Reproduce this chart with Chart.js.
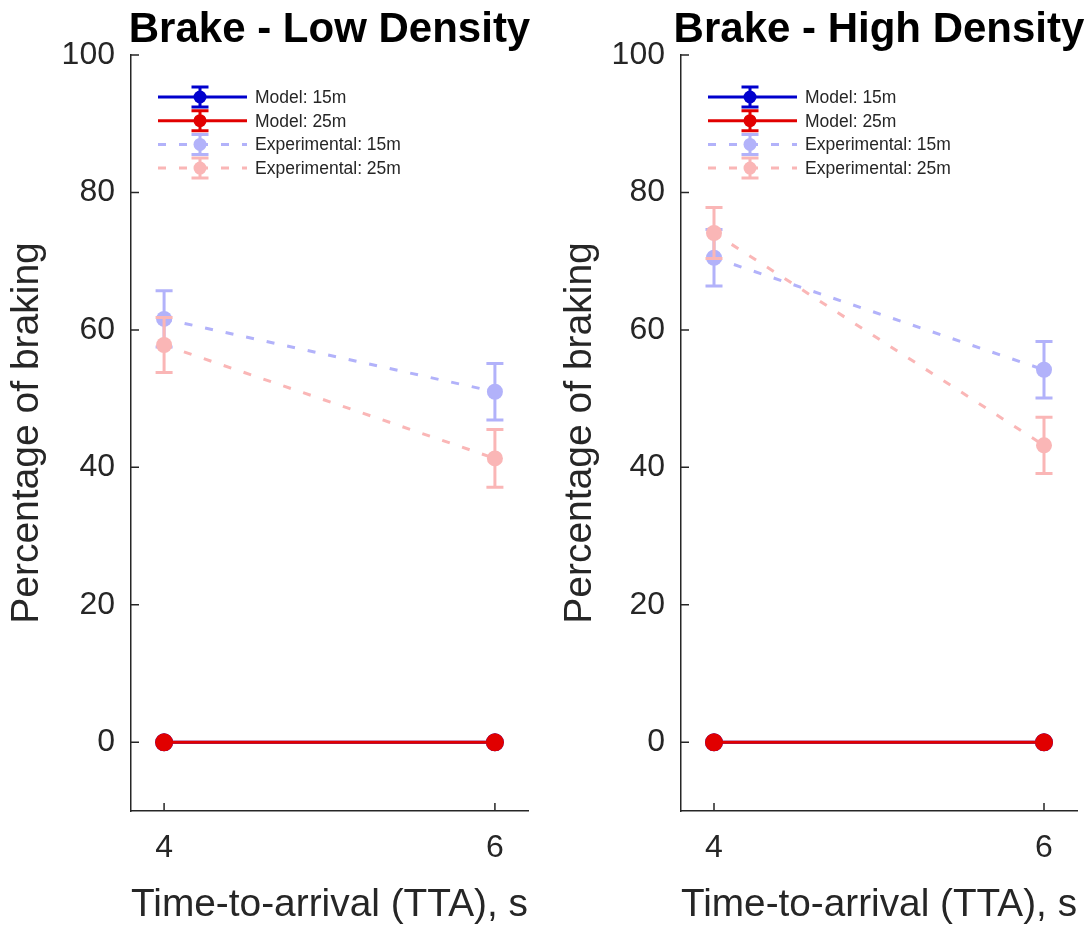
<!DOCTYPE html>
<html>
<head>
<meta charset="utf-8">
<script src="https://cdn.jsdelivr.net/npm/chart.js@4.4.1/dist/chart.umd.min.js"></script>
<style>
  body { margin: 0; background: #fff; }
  #wrap { position: relative; width: 1088px; height: 926px; }
  canvas { position: absolute; top: 0; }
</style>
</head>
<body>
<div id="wrap">
  <canvas id="lowChart" width="544" height="926" style="left:0"></canvas>
  <canvas id="highChart" width="544" height="926" style="left:544px"></canvas>
</div>
<script>
// data
const tta = [4, 6];
const xTicks = [4, 6];
const yTicks = [0, 20, 40, 60, 80, 100];
const seriesNames = ['Model: 15m', 'Model: 25m', 'Experimental: 15m', 'Experimental: 25m'];

const lowModel15 = [0, 0];
const lowModel25 = [0, 0];
const lowExp15 = [61.6, 51.0];
const lowExp25 = [57.8, 41.3];
const lowExp15Err = [4.1, 4.1];
const lowExp25Err = [4.0, 4.2];

const highModel15 = [0, 0];
const highModel25 = [0, 0];
const highExp15 = [70.5, 54.2];
const highExp25 = [74.1, 43.2];
const highExp15Err = [4.1, 4.1];
const highExp25Err = [3.7, 4.1];

const zeroErr = [0, 0];

const colors = ['rgb(0,0,205)', 'rgb(225,0,0)', 'rgb(178,178,250)', 'rgb(250,182,182)'];
const axisColor = '#262626';

Chart.defaults.font.family = '"Liberation Sans", Arial, Helvetica, sans-serif';

function pts(vals) {
    return tta.map((x, i) => ({ x: x, y: vals[i] }));
}

function series(i, vals, errs) {
    const exp = i >= 2;
    return {
        label: seriesNames[i],
        data: pts(vals),
        errors: errs,
        order: 4 - i, // later series on top, like matlab
        borderColor: colors[i],
        backgroundColor: colors[i],
        borderWidth: 3,
        borderDash: exp ? [8, 13] : [],
        pointRadius: exp ? 8 : 9,
        pointBorderWidth: 0,
        pointBackgroundColor: colors[i],
        fill: false,
        tension: 0
    };
}

// vertical error bars under each dataset
const errorBars = {
    id: 'errorBars',
    beforeDatasetDraw(chart, args) {
        const ds = chart.data.datasets[args.index];
        if (!ds.errors) return;
        const ctx = chart.ctx;
        const y = chart.scales.y;
        ctx.save();
        ctx.strokeStyle = ds.borderColor;
        ctx.lineWidth = 3;
        ctx.setLineDash([]);
        args.meta.data.forEach((p, i) => {
            const v = ds.data[i].y, e = ds.errors[i];
            if (!e) return;
            const top = y.getPixelForValue(v + e);
            const bot = y.getPixelForValue(v - e);
            ctx.beginPath();
            ctx.moveTo(p.x, top); ctx.lineTo(p.x, bot);
            ctx.moveTo(p.x - 8.5, top); ctx.lineTo(p.x + 8.5, top);
            ctx.moveTo(p.x - 8.5, bot); ctx.lineTo(p.x + 8.5, bot);
            ctx.stroke();
        });
        ctx.restore();
    }
};

// inward ticks like matlab
const innerTicks = {
    id: 'innerTicks',
    afterDraw(chart) {
        const ctx = chart.ctx, a = chart.chartArea;
        const x = chart.scales.x, y = chart.scales.y;
        ctx.save();
        ctx.strokeStyle = axisColor;
        ctx.lineWidth = 1.5;
        ctx.beginPath();
        yTicks.forEach(v => {
            const py = y.getPixelForValue(v);
            ctx.moveTo(a.left, py); ctx.lineTo(a.left + 8, py);
        });
        xTicks.forEach(v => {
            const px = x.getPixelForValue(v);
            ctx.moveTo(px, a.bottom); ctx.lineTo(px, a.bottom - 8);
        });
        ctx.stroke();
        ctx.restore();
    }
};

const boxLegend = {
    id: 'boxLegend',
    afterDraw(chart) {
        const ctx = chart.ctx, a = chart.chartArea;
        ctx.save();
        chart.data.datasets.forEach((ds, i) => {
            const ly = a.top + 42 + i * 23.7;
            const x0 = a.left + 27, x1 = a.left + 116, xm = a.left + 69;
            ctx.strokeStyle = ds.borderColor;
            ctx.lineWidth = 3;
            ctx.setLineDash(ds.borderDash);
            ctx.beginPath();
            ctx.moveTo(x0, ly); ctx.lineTo(x1, ly);
            ctx.stroke();
            ctx.setLineDash([]);
            ctx.beginPath();
            ctx.moveTo(xm, ly - 10); ctx.lineTo(xm, ly + 10);
            ctx.moveTo(xm - 8.5, ly - 10); ctx.lineTo(xm + 8.5, ly - 10);
            ctx.moveTo(xm - 8.5, ly + 10); ctx.lineTo(xm + 8.5, ly + 10);
            ctx.stroke();
            ctx.fillStyle = ds.borderColor;
            ctx.beginPath();
            ctx.arc(xm, ly, 6.5, 0, Math.PI * 2);
            ctx.fill();
            ctx.fillStyle = '#262626';
            ctx.font = '17.5px "Liberation Sans", Arial, sans-serif';
            ctx.textBaseline = 'middle';
            ctx.textAlign = 'left';
            ctx.fillText(ds.label, x1 + 8, ly + 1);
        });
        ctx.restore();
    }
};

function makeChart(id, title, sets, yWidth, padRight, yTitlePad) {
    const panelTitle = {
        id: 'panelTitle',
        afterDraw(chart) {
            const ctx = chart.ctx, a = chart.chartArea;
            ctx.save();
            ctx.fillStyle = '#000';
            ctx.font = 'bold 42px "Liberation Sans", Arial, sans-serif';
            ctx.textAlign = 'center';
            ctx.textBaseline = 'alphabetic';
            ctx.fillText(title, (a.left + a.right) / 2, 42);
            ctx.restore();
        }
    };

    const config = {
        type: 'line',
        data: { datasets: sets },
        options: {
            responsive: false,
            animation: false,
            events: [],
            layout: { padding: { left: 0, right: padRight, top: 55, bottom: 0 } },
            plugins: { legend: { display: false }, tooltip: { enabled: false } },
            scales: {
                x: {
                    type: 'linear',
                    min: 3.8,
                    max: 6.2,
                    afterBuildTicks: s => { s.ticks = xTicks.map(v => ({ value: v })); },
                    afterFit: s => { s.height = 115; },
                    grid: { display: false, drawTicks: false },
                    border: { display: true, color: axisColor, width: 1.5 },
                    ticks: { font: { size: 32 }, color: axisColor, padding: 18, maxRotation: 0, autoSkip: false },
                    title: {
                        display: true,
                        text: 'Time-to-arrival (TTA), s',
                        color: axisColor,
                        font: { size: 39, lineHeight: 1 },
                        padding: { top: 0, bottom: 1 }
                    }
                },
                y: {
                    type: 'linear',
                    min: -10,
                    max: 100,
                    afterBuildTicks: s => { s.ticks = yTicks.map(v => ({ value: v })); },
                    afterFit: s => { s.width = yWidth; },
                    grid: { display: false, drawTicks: false },
                    border: { display: true, color: axisColor, width: 1.5 },
                    ticks: { font: { size: 32 }, color: axisColor, padding: 16 },
                    title: {
                        display: true,
                        text: 'Percentage of braking',
                        color: axisColor,
                        font: { size: 39, lineHeight: 1 },
                        padding: { top: yTitlePad, bottom: 0 }
                    }
                }
            }
        },
        plugins: [errorBars, innerTicks, boxLegend, panelTitle]
    };
    return new Chart(document.getElementById(id), config);
}

const lowChart = makeChart('lowChart', 'Brake - Low Density', [
    series(0, lowModel15, zeroErr),
    series(1, lowModel25, zeroErr),
    series(2, lowExp15, lowExp15Err),
    series(3, lowExp25, lowExp25Err)
], 131, 16, 8);

const highChart = makeChart('highChart', 'Brake - High Density', [
    series(0, highModel15, zeroErr),
    series(1, highModel25, zeroErr),
    series(2, highExp15, highExp15Err),
    series(3, highExp25, highExp25Err)
], 137, 11, 17);
</script>
</body>
</html>
